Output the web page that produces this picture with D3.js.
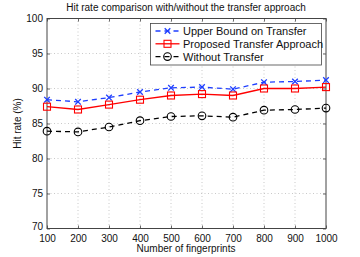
<!DOCTYPE html>
<html><head><meta charset="utf-8">
<script src="https://cdn.jsdelivr.net/npm/d3@7"></script>
<style>body{margin:0;background:#fff}svg{display:block}text{font-family:"Liberation Sans",Arial,sans-serif}</style>
</head><body>
<script>
const fingerprints = [100,200,300,400,500,600,700,800,900,1000];
const upperBound = [88.4,88.1,88.7,89.5,90.1,90.2,89.9,90.9,91.0,91.2];
const proposed = [87.4,87.0,87.7,88.4,89.0,89.2,89.0,90.0,90.0,90.2];
const withoutTransfer = [83.9,83.8,84.5,85.4,86.0,86.1,85.9,86.9,87.0,87.2];
const xTicks = [100,200,300,400,500,600,700,800,900,1000];
const yTicks = [70,75,80,85,90,95,100];
const seriesNames = ["Upper Bound on Transfer","Proposed Transfer Approach","Without Transfer"];

const W=360,H=257;
const m={l:47,r:34,t:18.5,b:28.5};
const svg=d3.select("body").append("svg").attr("width",W).attr("height",H);
const x=d3.scaleLinear().domain([100,1000]).range([m.l,W-m.r]);
const y=d3.scaleLinear().domain([70,100]).range([H-m.b,m.t]);
const x0=x.range()[0],x1=x.range()[1],y0=y.range()[0],y1=y.range()[1];

// grid
const g=svg.append("g");
g.selectAll(".gx").data(xTicks.slice(1,-1)).join("line")
 .attr("x1",d=>x(d)).attr("x2",d=>x(d)).attr("y1",y0).attr("y2",y1)
 .attr("stroke","#bbb").attr("stroke-width",0.8).attr("stroke-dasharray","1,2.5");
g.selectAll(".gy").data(yTicks.slice(1,-1)).join("line")
 .attr("y1",d=>y(d)).attr("y2",d=>y(d)).attr("x1",x0).attr("x2",x1)
 .attr("stroke","#bbb").attr("stroke-width",0.8).attr("stroke-dasharray","1,2.5");

// axes
const ax=svg.append("g").attr("transform",`translate(0,${y0})`)
 .call(d3.axisBottom(x).tickValues(xTicks).tickSize(-3).tickPadding(6).tickFormat(d3.format("d")));
const ay=svg.append("g").attr("transform",`translate(${x0},0)`)
 .call(d3.axisLeft(y).tickValues(yTicks).tickSize(-3).tickPadding(4));
const axt=svg.append("g").attr("transform",`translate(0,${y1})`)
 .call(d3.axisTop(x).tickValues(xTicks).tickSize(-3).tickFormat(""));
const ayr=svg.append("g").attr("transform",`translate(${x1},0)`)
 .call(d3.axisRight(y).tickValues(yTicks).tickSize(-3).tickFormat(""));
[ax,ay,axt,ayr].forEach(a=>{
 a.select(".domain").remove();
 a.selectAll("line").attr("stroke","#444").attr("stroke-width",0.8);
 a.selectAll("text").attr("font-size",10).attr("fill","#111")
  .attr("font-family","'Liberation Sans',Arial,sans-serif");
});
// nudge the 70 label up slightly like the reference
ay.selectAll(".tick text").filter(d=>d===70).attr("dy","0.1em");
svg.append("rect").attr("x",x0).attr("y",y1).attr("width",x1-x0).attr("height",y0-y1)
 .attr("fill","none").attr("stroke","#444").attr("stroke-width",1);

// series
const series=[
 {name:seriesNames[0],vals:upperBound,color:"#1f3fff",dash:"5,4",marker:"x"},
 {name:seriesNames[1],vals:proposed,color:"#ff0000",dash:null,marker:"square"},
 {name:seriesNames[2],vals:withoutTransfer,color:"#000",dash:"5,4",marker:"circle"}
];
const line=d3.line().x((d,i)=>x(fingerprints[i])).y(d=>y(d));
function drawMarker(sel,type,color,cx,cy){
 if(type==="x"){
  const s=2.8;
  sel.append("path").attr("d",`M${cx-s},${cy-s}L${cx+s},${cy+s}M${cx-s},${cy+s}L${cx+s},${cy-s}`)
   .attr("stroke",color).attr("stroke-width",1.3).attr("fill","none");
 } else if(type==="square"){
  sel.append("rect").attr("x",cx-3.5).attr("y",cy-3.5).attr("width",7).attr("height",7)
   .attr("fill","none").attr("stroke",color).attr("stroke-width",1.1);
 } else {
  sel.append("circle").attr("cx",cx).attr("cy",cy).attr("r",3.8)
   .attr("fill","none").attr("stroke",color).attr("stroke-width",1.1);
 }
}
series.forEach(s=>{
 svg.append("path").attr("d",line(s.vals)).attr("fill","none").attr("stroke",s.color)
  .attr("stroke-width",1.3).attr("stroke-dasharray",s.dash);
 const mg=svg.append("g");
 s.vals.forEach((v,i)=>drawMarker(mg,s.marker,s.color,x(fingerprints[i]),y(v)));
});

// legend
const lg=svg.append("g");
lg.append("rect").attr("x",150.5).attr("y",23.5).attr("width",171).attr("height",41.5)
 .attr("fill","#fff").attr("stroke","#444").attr("stroke-width",0.8);
series.forEach((s,i)=>{
 const ly=31+i*12.8;
 lg.append("line").attr("x1",155.5).attr("x2",179.5).attr("y1",ly).attr("y2",ly)
  .attr("stroke",s.color).attr("stroke-width",1.3).attr("stroke-dasharray",s.dash);
 drawMarker(lg,s.marker,s.color,167.5,ly);
 lg.append("text").attr("x",183).attr("y",ly+4).attr("font-size",11).attr("fill","#111").text(s.name);
});

// labels
svg.append("text").attr("x",186).attr("y",11).attr("text-anchor","middle").attr("font-size",10)
 .attr("fill","#111").text("Hit rate comparison with/without the transfer approach");
svg.append("text").attr("x",186).attr("y",252).attr("text-anchor","middle").attr("font-size",10)
 .attr("fill","#111").text("Number of fingerprints");
svg.append("text").attr("transform",`translate(21,${(y0+y1)/2}) rotate(-90)`).attr("text-anchor","middle")
 .attr("font-size",10).attr("fill","#111").text("Hit rate (%)");
</script>
</body></html>
